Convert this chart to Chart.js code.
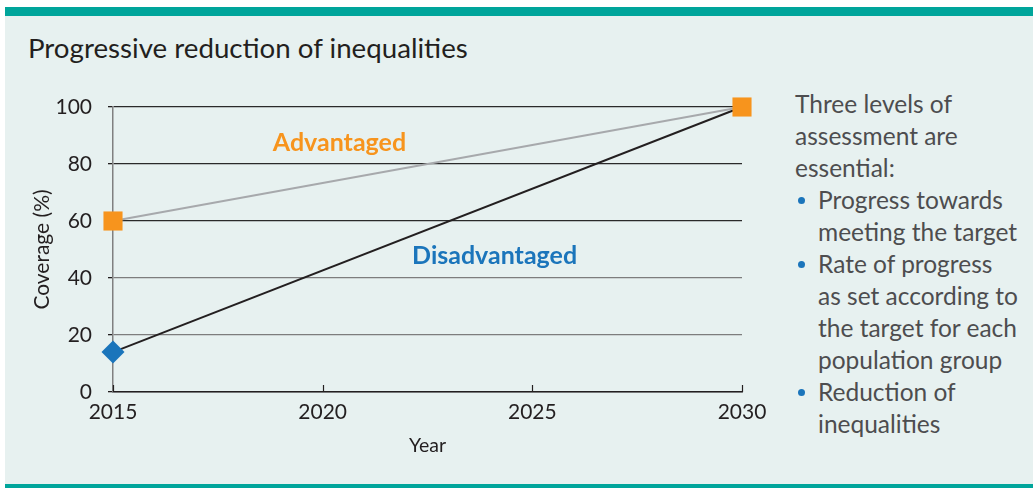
<!DOCTYPE html>
<html>
<head>
<meta charset="utf-8">
<script src="https://cdn.jsdelivr.net/npm/chart.js@4"></script>
<style>
  html, body { margin:0; padding:0; background:#ffffff; }
  #wrap { position:relative; width:1033px; height:488px; overflow:hidden; background:#ffffff; }
  #panel { position:absolute; left:5px; top:7px; width:1028px; height:481px; background:#e7f1f0; }
  #topbar { position:absolute; left:5px; top:7px; width:1028px; height:9px; background:#00a59b; }
  #botbar { position:absolute; left:5px; top:484px; width:1028px; height:4px; background:#00a59b; }
  #title { position:absolute; left:28px; top:31px; font-family:Lato, "Open Sans", sans-serif; font-size:27.7px; color:#231f20; white-space:nowrap; }
  #side { position:absolute; left:795px; top:88px; width:240px; font-family:Lato, "Open Sans", sans-serif; font-size:24.5px; line-height:32px; color:#4d4d4f; white-space:nowrap; }
  #side ul { margin:0; padding:0; list-style:none; }
  #side li { position:relative; padding-left:23px; }
  #side li::before { content:""; position:absolute; left:3px; top:13px; width:7px; height:7px; border-radius:50%; background:#1b75bb; }
  canvas { position:absolute; left:0; top:0; }
</style>
</head>
<body>
<div id="wrap">
  <div id="panel"></div>
  <div id="topbar"></div>
  <div id="botbar"></div>
  <div id="title">Progressive reduction of inequalities</div>
  <div id="side">
    Three levels of<br>assessment are<br>essential:
    <ul>
      <li>Progress towards<br>meeting the target</li>
      <li>Rate of progress<br>as set according to<br>the target for each<br>population group</li>
      <li>Reduction of<br>inequalities</li>
    </ul>
  </div>
  <canvas id="c" width="1033" height="488"></canvas>
</div>
<script>
// ---- data ----
const years = [2015, 2030];
const advantaged = [60, 100];
const disadvantaged = [14, 100];
const xTicks = [2015, 2020, 2025, 2030];
const yTicks = [0, 20, 40, 60, 80, 100];
const seriesNames = ['Advantaged', 'Disadvantaged'];
const labelPos = { Advantaged: [2020.4, 87.4], Disadvantaged: [2024.1, 47.7] };

const ORANGE = '#f7941d';
const BLUE = '#1b75bb';
const FONT = 'Lato, "Open Sans", sans-serif';

const seriesLabels = {
  id: 'seriesLabels',
  afterDatasetsDraw(chart) {
    const {ctx, scales:{x, y}} = chart;
    ctx.save();
    ctx.font = 'bold 25px ' + FONT;
    ctx.textAlign = 'center';
    ctx.textBaseline = 'middle';
    seriesNames.forEach((n, i) => {
      const p = labelPos[n];
      ctx.fillStyle = i === 0 ? ORANGE : BLUE;
      ctx.fillText(n, x.getPixelForValue(p[0]), y.getPixelForValue(p[1]));
    });
    ctx.restore();
  }
};

const innerTicks = {
  id: 'innerTicks',
  beforeDatasetsDraw(chart) {
    const {ctx, scales:{x, y}} = chart;
    ctx.save();
    ctx.strokeStyle = '#231f20';
    ctx.lineWidth = 1.2;
    const yb = y.getPixelForValue(0);
    xTicks.forEach(v => {
      const px = Math.round(x.getPixelForValue(v)) + 0.5;
      ctx.beginPath();
      ctx.moveTo(px, yb);
      ctx.lineTo(px, yb - 7);
      ctx.stroke();
    });
    ctx.restore();
  }
};

new Chart(document.getElementById('c'), {
  type: 'line',
  data: {
    datasets: [
      {
        label: seriesNames[0],
        data: years.map((yr, i) => ({x: yr, y: advantaged[i]})),
        borderColor: '#a7a9ac',
        borderWidth: 2,
        pointStyle: 'rect',
        pointRadius: 13.5,
        pointBackgroundColor: ORANGE,
        pointBorderColor: ORANGE,
        pointBorderWidth: 0,
        tension: 0,
        clip: false
      },
      {
        label: seriesNames[1],
        data: years.map((yr, i) => ({x: yr, y: disadvantaged[i]})),
        borderColor: '#231f20',
        borderWidth: 2,
        pointStyle: 'rectRot',
        pointRadius: ctx => ctx.dataIndex === 0 ? 11.5 : 0,
        pointBackgroundColor: BLUE,
        pointBorderColor: BLUE,
        pointBorderWidth: 0,
        tension: 0,
        clip: false
      }
    ]
  },
  options: {
    responsive: false,
    animation: false,
    events: [],
    layout: { padding: { left: 0, top: 107, right: 291, bottom: 28 } },
    plugins: { legend: { display: false }, tooltip: { enabled: false } },
    elements: { point: { hoverRadius: 0 } },
    scales: {
      x: {
        type: 'linear',
        min: 2015, max: 2030,
        afterFit: s => { s.height = 68; },
        afterBuildTicks: s => { s.ticks = xTicks.map(v => ({value: v})); },
        grid: { display: false, drawTicks: false },
        border: { display: true, color: '#231f20', width: 1.5 },
        ticks: {
          padding: 8,
          color: '#231f20',
          font: { family: FONT, size: 21 },
          callback: v => String(v),
          maxRotation: 0
        },
        title: {
          display: true, text: 'Year', color: '#231f20',
          font: { family: FONT, size: 19.5 },
          padding: { top: 0, bottom: 3 }
        }
      },
      y: {
        min: 0, max: 100,
        afterFit: s => { s.width = 113; },
        afterBuildTicks: s => { s.ticks = yTicks.map(v => ({value: v})); },
        grid: {
          color: ctx => (ctx.tick && ctx.tick.value <= 40) ? '#7d7d7d' : '#2a2a2a',
          lineWidth: 1.3,
          drawTicks: true,
          tickLength: 5,
          tickColor: '#231f20'
        },
        border: { display: true, color: '#808080', width: 1.5 },
        ticks: {
          padding: 16,
          color: '#231f20',
          font: { family: FONT, size: 21 }
        },
        title: {
          display: true, text: 'Coverage (%)', color: '#231f20',
          font: { family: FONT, size: 21 },
          padding: { top: 30, bottom: 0 }
        }
      }
    }
  },
  plugins: [innerTicks, seriesLabels]
});
</script>
</body>
</html>
